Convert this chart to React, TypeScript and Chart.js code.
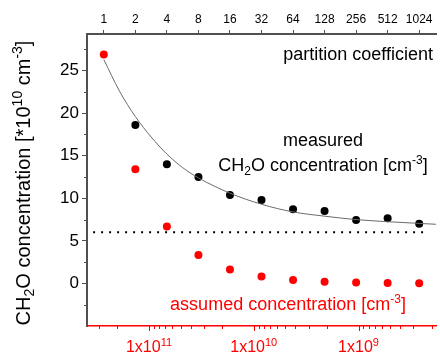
import React, { useEffect, useRef } from 'react';
import { Chart, registerables } from 'chart.js';
Chart.register(...registerables);

const partitionCoefficients = [1, 2, 4, 8, 16, 32, 64, 128, 256, 512, 1024];
const measuredPc = [2, 4, 8, 16, 32, 64, 128, 256, 512, 1024];
const measuredConc = [18.6, 14.0, 12.5, 10.4, 9.8, 8.7, 8.5, 7.45, 7.65, 7.0];
const assumedConc = [26.9, 13.4, 6.7, 3.35, 1.65, 0.8, 0.4, 0.2, 0.1, 0.05, 0.03];
const fitPc = [1, 1.41, 2, 2.83, 4, 5.66, 8, 16, 32, 64, 128, 256, 512, 1024, 1480];
const fitConc = [26.3, 22.6, 19.6, 17.2, 15.2, 13.6, 12.4, 10.6, 9.3, 8.4, 7.9, 7.5, 7.25, 7.05, 6.95];
const limitPc = [0.79, 1140];
const limitConc = [6, 6];
const yTickValues = [0, 5, 10, 15, 20, 25];
const yMinorTicks = [-2.5, 2.5, 7.5, 12.5, 17.5, 22.5, 27.5];
const bottomMajorTicks = [1e11, 1e10, 1e9];
const bottomTickExponents = ['11', '10', '9'];
const bottomMantissas = [2, 3, 4, 5, 6, 7, 8, 9];
const bottomDecades = [1e8, 1e9, 1e10, 1e11];

const PC_MIN = 0.691;
const PC_MAX = 1482;
const REF_CONC = 2.7e11;
const Y_MIN = -5;
const Y_MAX = 29.3;

const FONT = '"Liberation Sans", Arial, sans-serif';
const RED = '#ff0000';
const AXIS = '#505050';

type Part = { t: string; s?: 'sup' | 'sub' };

function drawRich(
  ctx: CanvasRenderingContext2D,
  parts: Part[],
  x: number,
  y: number,
  size: number,
  color: string,
  align: 'left' | 'center' | 'right'
) {
  const small = Math.round(size * 0.68);
  let total = 0;
  const widths = parts.map((p) => {
    ctx.font = `${p.s ? small : size}px ${FONT}`;
    const w = ctx.measureText(p.t).width;
    total += w;
    return w;
  });
  let cx = align === 'center' ? x - total / 2 : align === 'right' ? x - total : x;
  ctx.textAlign = 'left';
  ctx.textBaseline = 'alphabetic';
  ctx.fillStyle = color;
  parts.forEach((p, i) => {
    ctx.font = `${p.s ? small : size}px ${FONT}`;
    const dy = p.s === 'sup' ? -size * 0.4 : p.s === 'sub' ? size * 0.22 : 0;
    ctx.fillText(p.t, cx, y + dy);
    cx += widths[i];
  });
}

const annotationPlugin = {
  id: 'annotations',
  afterDraw(chart: any) {
    const ctx: CanvasRenderingContext2D = chart.ctx;
    const x2 = chart.scales.x2;
    const y = chart.scales.y;
    const area = chart.chartArea;
    ctx.save();

    // y minor ticks
    ctx.strokeStyle = AXIS;
    ctx.lineWidth = 1;
    yMinorTicks.forEach((v) => {
      const py = Math.round(y.getPixelForValue(v)) + 0.5;
      ctx.beginPath();
      ctx.moveTo(area.left - 3, py);
      ctx.lineTo(area.left, py);
      ctx.stroke();
    });

    // bottom axis ticks
    ctx.strokeStyle = RED;
    bottomDecades.forEach((d) => {
      bottomMantissas.forEach((m) => {
        const v = d * m;
        const px = x2.getPixelForValue(v);
        if (px < area.left || px > area.right) return;
        const rx = Math.round(px) + 0.5;
        ctx.beginPath();
        ctx.moveTo(rx, area.bottom);
        ctx.lineTo(rx, area.bottom + 3);
        ctx.stroke();
      });
    });
    bottomMajorTicks.forEach((v, i) => {
      const px = x2.getPixelForValue(v);
      const rx = Math.round(px) + 0.5;
      ctx.beginPath();
      ctx.moveTo(rx, area.bottom);
      ctx.lineTo(rx, area.bottom + 5);
      ctx.stroke();
      drawRich(ctx, [{ t: '1x10' }, { t: bottomTickExponents[i], s: 'sup' }], px, 352, 16, RED, 'center');
    });

    // annotations
    drawRich(ctx, [{ t: 'partition coefficient' }], 433, 60, 18, '#000', 'right');
    drawRich(ctx, [{ t: 'measured' }], 323, 146, 18, '#000', 'center');
    drawRich(
      ctx,
      [{ t: 'CH' }, { t: '2', s: 'sub' }, { t: 'O concentration [cm' }, { t: '-3', s: 'sup' }, { t: ']' }],
      323,
      171,
      18,
      '#000',
      'center'
    );
    drawRich(
      ctx,
      [{ t: 'assumed concentration [cm' }, { t: '-3', s: 'sup' }, { t: ']' }],
      288,
      310,
      18,
      RED,
      'center'
    );

    // y axis title
    ctx.save();
    ctx.translate(30, 183);
    ctx.rotate(-Math.PI / 2);
    drawRich(
      ctx,
      [
        { t: 'CH' },
        { t: '2', s: 'sub' },
        { t: 'O concentration [*10' },
        { t: '10', s: 'sup' },
        { t: ' cm' },
        { t: '-3', s: 'sup' },
        { t: ']' },
      ],
      0,
      0,
      20,
      '#000',
      'center'
    );
    ctx.restore();

    ctx.restore();
  },
};

export default function App() {
  const ref = useRef<HTMLCanvasElement>(null);

  useEffect(() => {
    if (!ref.current) return;
    const chart = new Chart(ref.current, {
      type: 'scatter',
      data: {
        datasets: [
          {
            type: 'line',
            data: fitPc.map((x, i) => ({ x, y: fitConc[i] })),
            borderColor: '#6a6a6a',
            borderWidth: 1,
            pointRadius: 0,
            cubicInterpolationMode: 'monotone',
            fill: false,
            xAxisID: 'x',
            yAxisID: 'y',
          } as any,
          {
            type: 'line',
            data: limitPc.map((x, i) => ({ x, y: limitConc[i] })),
            borderColor: '#000',
            borderWidth: 2,
            borderDash: [2, 6],
            pointRadius: 0,
            fill: false,
            xAxisID: 'x',
            yAxisID: 'y',
          } as any,
          {
            data: measuredPc.map((x, i) => ({ x, y: measuredConc[i] })),
            backgroundColor: '#000',
            borderColor: '#000',
            pointRadius: 4,
            borderWidth: 0,
            xAxisID: 'x',
            yAxisID: 'y',
          },
          {
            data: partitionCoefficients.map((x, i) => ({ x, y: assumedConc[i] })),
            backgroundColor: RED,
            borderColor: RED,
            pointRadius: 4,
            borderWidth: 0,
            xAxisID: 'x',
            yAxisID: 'y',
          },
        ],
      },
      options: {
        responsive: false,
        animation: false,
        events: [],
        layout: { padding: 0 },
        plugins: { legend: { display: false }, tooltip: { enabled: false } },
        scales: {
          x: {
            type: 'logarithmic',
            position: 'top',
            min: PC_MIN,
            max: PC_MAX,
            afterBuildTicks: (s: any) => {
              s.ticks = partitionCoefficients.map((v) => ({ value: v }));
            },
            afterFit: (s: any) => {
              s.height = 34;
            },
            ticks: {
              autoSkip: false,
              maxRotation: 0,
              padding: 3,
              color: '#000',
              font: { family: FONT, size: 12 },
              callback: (v: any) => String(v),
            },
            grid: { drawOnChartArea: false, tickLength: 4, tickColor: AXIS, tickWidth: 1 },
            border: { color: AXIS, width: 2 },
          },
          x2: {
            type: 'logarithmic',
            position: 'bottom',
            reverse: true,
            min: REF_CONC / PC_MAX,
            max: REF_CONC / PC_MIN,
            afterFit: (s: any) => {
              s.height = 30;
            },
            ticks: { display: false },
            grid: { display: false },
            border: { color: RED, width: 1.5 },
          },
          y: {
            type: 'linear',
            position: 'left',
            min: Y_MIN,
            max: Y_MAX,
            afterBuildTicks: (s: any) => {
              s.ticks = yTickValues.map((v) => ({ value: v }));
            },
            afterFit: (s: any) => {
              s.width = 87;
            },
            ticks: {
              padding: 3,
              color: '#000',
              font: { family: FONT, size: 17 },
            },
            grid: { drawOnChartArea: false, tickLength: 5, tickColor: AXIS, tickWidth: 1 },
            border: { color: AXIS, width: 2 },
          },
        },
      } as any,
      plugins: [annotationPlugin],
    });
    return () => chart.destroy();
  }, []);

  return (
    <div style={{ position: 'fixed', left: 0, top: 0, width: 440, height: 356, background: '#fff' }}>
      <canvas ref={ref} width={440} height={356} style={{ display: 'block' }} />
    </div>
  );
}
